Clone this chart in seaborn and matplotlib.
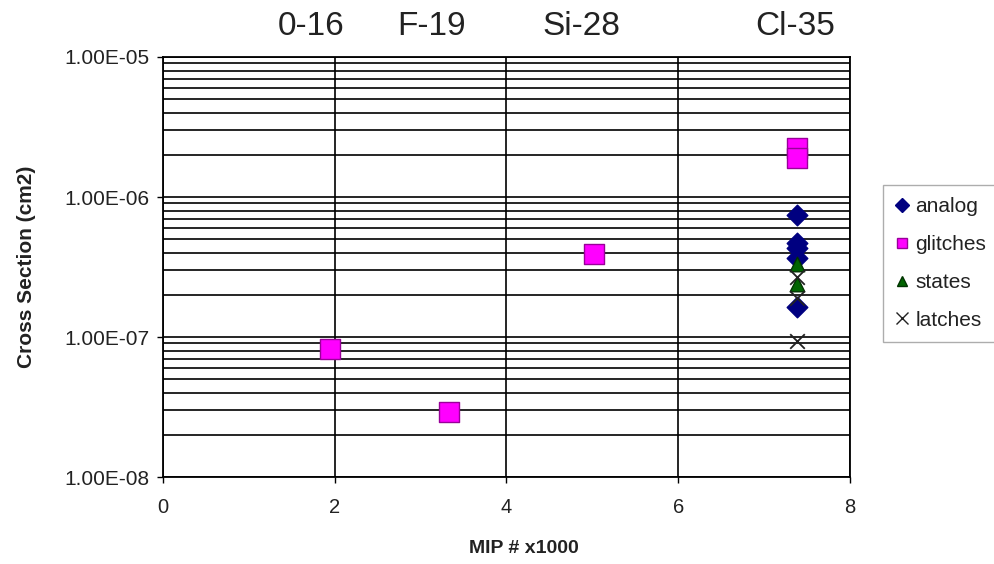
import numpy as np
import pandas as pd
import seaborn as sns
import matplotlib.pyplot as plt
import matplotlib.ticker as mtick

# data
analog_x = [7.38, 7.38, 7.38, 7.38, 7.38]
analog_y = [7.4e-7, 4.7e-7, 4.3e-7, 3.7e-7, 1.65e-7]
glitch_x = [1.95, 3.33, 5.02, 7.38, 7.38]
glitch_y = [8.2e-8, 2.9e-8, 3.9e-7, 2.25e-6, 1.9e-6]
states_x = [7.38, 7.38]
states_y = [3.3e-7, 2.4e-7]
latch_x = [7.38, 7.38, 7.38]
latch_y = [2.7e-7, 1.9e-7, 9.3e-8]

ions = ['0-16', 'F-19', 'Si-28', 'Cl-35']
ion_x = [1.73, 3.13, 4.87, 7.36]

series = [
    ('glitches', glitch_x, glitch_y, 's', '#FF00FF', '#990099', 190),
    ('analog', analog_x, analog_y, 'D', '#000080', '#000080', 110),
    ('states', states_x, states_y, '^', '#006400', '#003300', 110),
    ('latches', latch_x, latch_y, 'x', '#222222', '#222222', 110),
]

sns.set_style('white')
plt.rcParams['font.family'] = ['Liberation Sans', 'DejaVu Sans']

fig = plt.figure(figsize=(9.94, 5.64), dpi=100)
ax = fig.add_axes([0.164, 0.154, 0.691, 0.745])

handles = {}
for name, xs, ys, mk, fc, ec, s in series:
    df = pd.DataFrame({'MIP': xs, 'cs': ys})
    if mk == 'x':
        sns.scatterplot(data=df, x='MIP', y='cs', marker=mk, color=fc, s=s,
                        linewidth=1.3, ax=ax, zorder=5)
    else:
        sns.scatterplot(data=df, x='MIP', y='cs', marker=mk, color=fc, s=s,
                        edgecolor=ec, linewidth=1.0, ax=ax, zorder=4)
    handles[name] = plt.Line2D([], [], ls='', marker=mk, color=fc,
                               markeredgecolor=ec, markersize=7 if mk != 'x' else 8,
                               markeredgewidth=1.0)

ax.set_yscale('log')
ax.set_ylim(1e-8, 1e-5)
ax.set_xlim(0, 8)
ax.set_xticks([0, 2, 4, 6, 8])
ax.yaxis.set_major_formatter(mtick.FuncFormatter(lambda v, p: '{:.2E}'.format(v)))
ax.yaxis.set_minor_formatter(mtick.NullFormatter())
ax.yaxis.set_minor_locator(mtick.LogLocator(base=10, subs=np.arange(2, 10)))

ax.grid(True, which='both', axis='y', color='black', lw=1.2)
ax.grid(True, which='major', axis='x', color='black', lw=1.2)
for sp in ax.spines.values():
    sp.set_color('black')
    sp.set_linewidth(1.3)

ax.tick_params(axis='x', which='major', direction='out', length=4, width=1,
               color='black', labelsize=14.5, pad=11, bottom=True, labelcolor='#222222')
ax.tick_params(axis='y', which='major', direction='out', length=4, width=1,
               color='black', labelsize=15, pad=6, left=True, labelcolor='#222222')
ax.tick_params(axis='y', which='minor', length=0)

ax.set_xlabel('MIP # x1000', fontsize=14, fontweight='bold', color='#222222')
ax.set_ylabel('Cross Section (cm2)', fontsize=15, fontweight='bold', color='#222222')
ax.xaxis.set_label_coords(0.525, -0.15)
ax.yaxis.set_label_coords(-0.185, 0.5)

for lab, xv in zip(ions, ion_x):
    ax.text(xv, 1.035, lab, transform=ax.get_xaxis_transform(), ha='center',
            va='bottom', fontsize=24, color='#222222')

leg = fig.legend([handles[k] for k in ['analog', 'glitches', 'states', 'latches']],
                 ['analog', 'glitches', 'states', 'latches'],
                 loc='upper left', bbox_to_anchor=(883 / 994, 1 - 185 / 564), fontsize=15,
                 frameon=True, fancybox=False, handlelength=0.6, handletextpad=0.35,
                 borderpad=0.6, borderaxespad=0, labelspacing=0.9, labelcolor='#222222')
leg.get_frame().set_edgecolor('#999999')
leg.get_frame().set_linewidth(1.0)

fig.savefig('out.png', dpi=100)
